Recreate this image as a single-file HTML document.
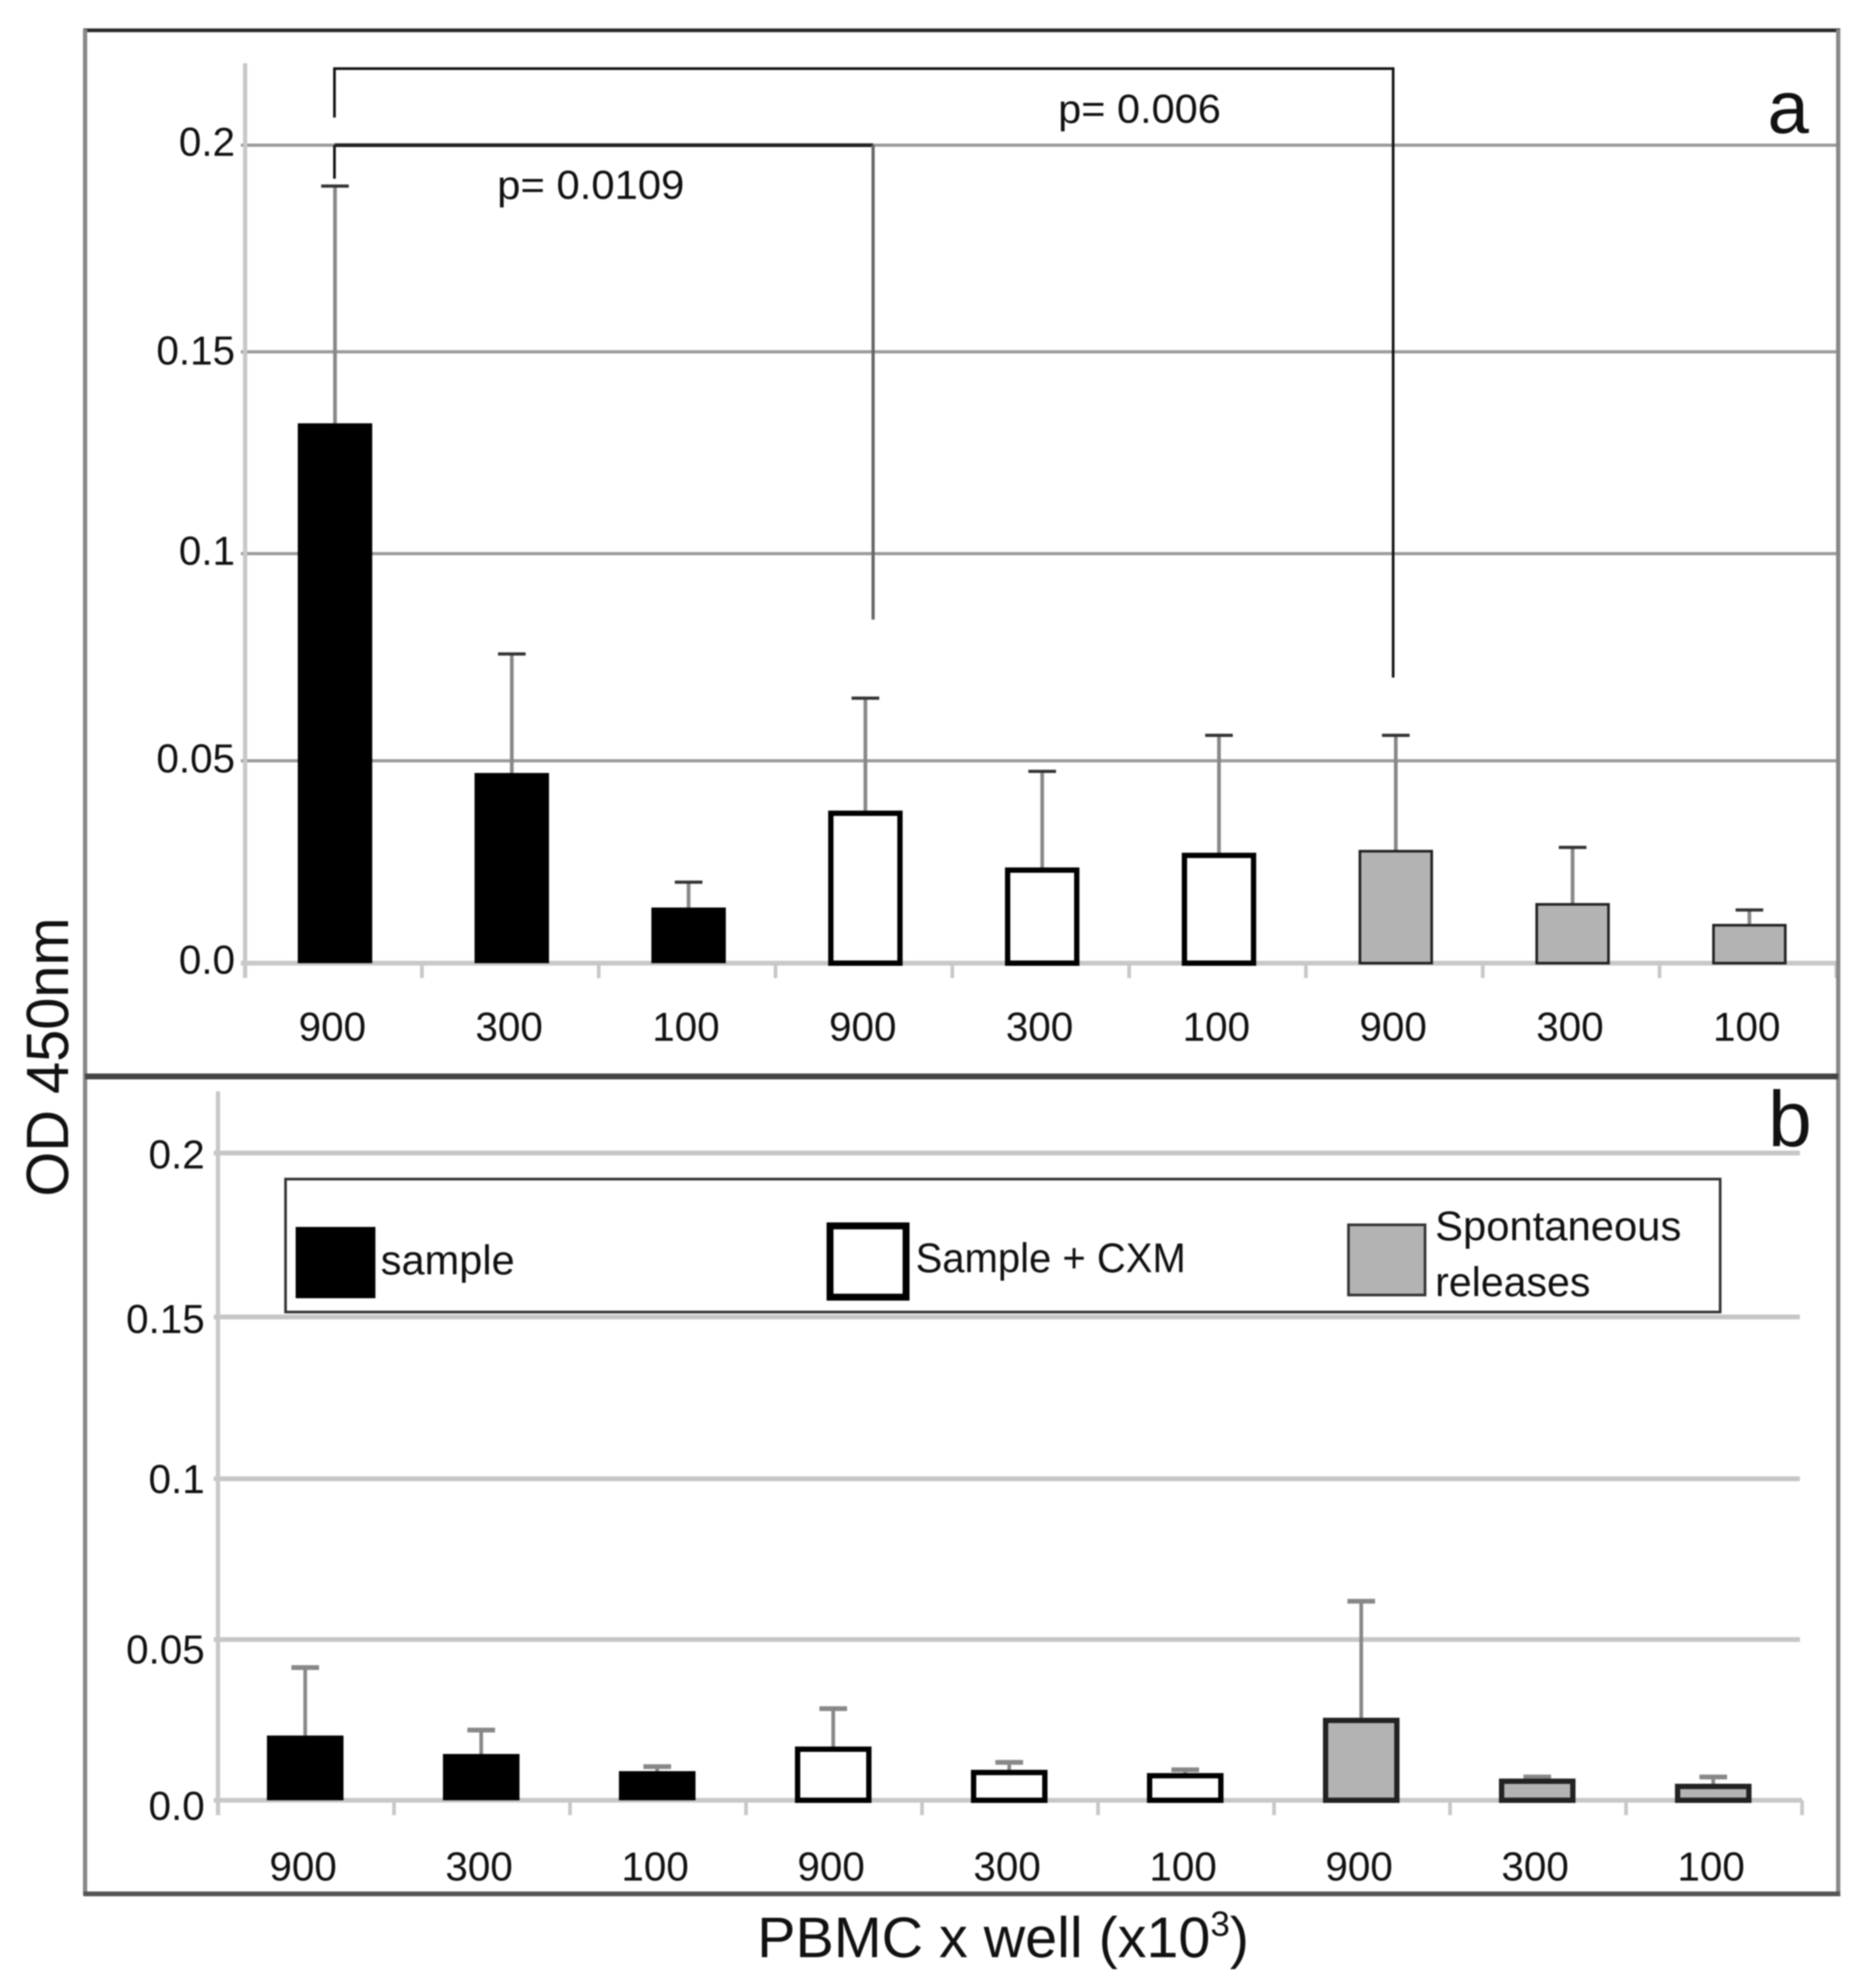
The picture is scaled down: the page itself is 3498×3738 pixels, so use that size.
<!DOCTYPE html>
<html lang="en">
<head>
<meta charset="utf-8">
<title>OD 450nm by PBMC per well</title>
<style>
html,body{margin:0;padding:0;background:#fff;}
svg{display:block;filter:blur(1.3px);}
text{font-family:"Liberation Sans",sans-serif;fill:#111;}
</style>
</head>
<body>
<svg id="chart" width="3498" height="3738" viewBox="0 0 3498 3738" xmlns="http://www.w3.org/2000/svg">
  <rect x="0" y="0" width="3498" height="3738" fill="#fff"/>
  <g id="panel-a"></g>
  <g id="panel-b"></g>

  <g>
    <line x1="157" y1="57" x2="3461" y2="57" stroke="#2a2a2a" stroke-width="7"/>
    <line x1="160" y1="55" x2="160" y2="3564" stroke="#888" stroke-width="8"/>
    <line x1="3457" y1="55" x2="3457" y2="3564" stroke="#888" stroke-width="8"/>
    <line x1="160" y1="2024" x2="3457" y2="2024" stroke="#444" stroke-width="11"/>
    <line x1="157" y1="3561" x2="3461" y2="3561" stroke="#555" stroke-width="9"/>
  </g>

  <g fill="none">
    <polyline points="629,221 629,129 2620,129 2620,1274" stroke="#111" stroke-width="5"/>
    <line x1="629" y1="273" x2="629" y2="336" stroke="#111" stroke-width="5"/>
    <line x1="629" y1="273" x2="1642" y2="273" stroke="#222" stroke-width="7"/>
    <line x1="1642" y1="273" x2="1642" y2="1165" stroke="#666" stroke-width="6"/>
  </g>
  <text x="935" y="374" font-size="76" textLength="352" lengthAdjust="spacingAndGlyphs">p= 0.0109</text>
  <text x="1990" y="231" font-size="76" textLength="306" lengthAdjust="spacingAndGlyphs">p= 0.006</text>
  <text x="3324" y="250" font-size="140">a</text>
  <text x="3325" y="2155" font-size="148">b</text>

  <g>
    <rect x="537" y="2217" width="2698" height="250" fill="#fff" stroke="#333" stroke-width="5"/>
    <rect x="556" y="2307" width="150" height="134" fill="#000"/>
    <text x="716" y="2396" font-size="78" textLength="252" lengthAdjust="spacingAndGlyphs">sample</text>
    <rect x="1561" y="2305" width="143" height="134" fill="#fff" stroke="#000" stroke-width="13"/>
    <text x="1722" y="2392" font-size="78" textLength="508" lengthAdjust="spacingAndGlyphs">Sample + CXM</text>
    <rect x="2536" y="2303" width="144" height="132" fill="#b3b3b3" stroke="#333" stroke-width="5"/>
    <text x="2699" y="2332" font-size="78" textLength="463" lengthAdjust="spacingAndGlyphs">Spontaneous</text>
    <text x="2699" y="2437" font-size="78" textLength="292" lengthAdjust="spacingAndGlyphs">releases</text>
  </g>

  <text transform="translate(128,2250) rotate(-90)" font-size="112" textLength="525" lengthAdjust="spacingAndGlyphs">OD 450nm</text>
  <text x="1424" y="3680" font-size="108">PBMC x well (x10<tspan font-size="66" dy="-40">3</tspan><tspan dy="40">)</tspan></text>
</svg>
<script>
const categoryLabels = ['900', '300', '100', '900', '300', '100', '900', '300', '100'];
const tickValues = [0.2, 0.15, 0.1, 0.05, 0];
const tickLabels = ['0.2', '0.15', '0.1', '0.05', '0.0'];
const meansA = [0.132, 0.0465, 0.0136, 0.0373, 0.0234, 0.027, 0.0277, 0.0147, 0.0096];
const errorTopsA = [0.19, 0.0756, 0.0198, 0.0648, 0.0469, 0.0557, 0.0557, 0.0283, 0.013];
const meansB = [0.02, 0.0143, 0.009, 0.0166, 0.0094, 0.0084, 0.0255, 0.0067, 0.0051];
const errorTopsB = [0.041, 0.0217, 0.0104, 0.0283, 0.0117, 0.0094, 0.0615, 0.0072, 0.0072];
const groupStyles = ['sample', 'sample', 'sample', 'cxm', 'cxm', 'cxm', 'spontaneous', 'spontaneous', 'spontaneous'];

const SVGNS = 'http://www.w3.org/2000/svg';
function make(parent, tag, attrs, content) {
  const el = document.createElementNS(SVGNS, tag);
  for (const k in attrs) el.setAttribute(k, attrs[k]);
  if (content !== undefined) el.textContent = content;
  parent.appendChild(el);
  return el;
}

const panelConfigA = {
  node: document.getElementById('panel-a'), axisX: 461, axisTop: 119, zeroY: 1811, unit: 7690,
  step: 332.5, barOffset: 169, barW: 140, gridEnd: 3457, gridColor: '#9a9a9a', gridW: 6, axisColor: '#c8c8c8',
  tickRight: 442, labelBase: 20, gridNudge: [0, 4, -1, 4, 0], labelNudge: [0, 8, 0, 6, 0],
  catBase: 1957, catOffset: 164, capColor: '#333', capW: 6,
  strokeW: { sample: 0, cxm: 10, spontaneous: 5 }
};
const panelConfigB = {
  node: document.getElementById('panel-b'), axisX: 410, axisTop: 2052, zeroY: 3385, unit: 6085,
  step: 331, barOffset: 164, barW: 144, gridEnd: 3385, gridColor: '#c6c6c6', gridW: 9, axisColor: '#c8c8c8',
  tickRight: 385, labelBase: 29, gridNudge: [0, 4, 4, 2, 0], labelNudge: [0, 5, 2, 18, 8],
  catBase: 3536, catOffset: 160, capColor: '#888', capW: 9,
  strokeW: { sample: 0, cxm: 10, spontaneous: 10 }
};

function drawPanel(cfg, means, errorTops) {
  const yAxis = v => cfg.zeroY - v * cfg.unit;
  const xAxis = i => cfg.axisX + cfg.barOffset + i * cfg.step;
  const g = cfg.node;

  tickValues.forEach((v, i) => {
    const gy = yAxis(v) + cfg.gridNudge[i];
    if (v !== 0) {
      const grid = make(g, 'line', { x1: cfg.axisX - 8, x2: cfg.gridEnd, y1: gy, y2: gy, stroke: cfg.gridColor, 'stroke-width': cfg.gridW });
      
      
    }
    const label = make(g, 'text', { x: cfg.tickRight, y: yAxis(v) + cfg.labelBase + cfg.labelNudge[i], 'font-size': 76, 'text-anchor': 'end' }, tickLabels[i]);
    
    
  });

  const yLine = make(g, 'line', { x1: cfg.axisX, x2: cfg.axisX, y1: cfg.axisTop, y2: cfg.zeroY + 28, stroke: cfg.axisColor, 'stroke-width': 8 });
  
  
  const xLine = make(g, 'line', { x1: cfg.axisX - 8, x2: cfg.axisX + 9 * cfg.step, y1: cfg.zeroY, y2: cfg.zeroY, stroke: cfg.axisColor, 'stroke-width': 9 });
  
  

  for (let i = 1; i <= 9; i++) {
    const tx = cfg.axisX + i * cfg.step;
    const tick = make(g, 'line', { x1: tx, x2: tx, y1: cfg.zeroY, y2: cfg.zeroY + 28, stroke: cfg.axisColor, 'stroke-width': 7 });
    
    
  }

  categoryLabels.forEach((c, i) => {
    const cx = xAxis(i);
    const label = make(g, 'text', { x: cfg.axisX + cfg.catOffset + i * cfg.step, y: cfg.catBase, 'font-size': 76, 'text-anchor': 'middle' }, c);
    
    

    const stem = make(g, 'line', { x1: cx, x2: cx, y1: yAxis(errorTops[i]), y2: yAxis(means[i]), stroke: '#888', 'stroke-width': 7 });
    
    
    const cap = make(g, 'line', { x1: cx - 26, x2: cx + 26, y1: yAxis(errorTops[i]), y2: yAxis(errorTops[i]), stroke: cfg.capColor, 'stroke-width': cfg.capW });
    
    

    const style = groupStyles[i];
    const sw = cfg.strokeW[style];
    const fill = style === 'sample' ? '#000' : (style === 'cxm' ? '#fff' : '#b3b3b3');
    const stroke = style === 'spontaneous' ? '#222' : '#000';
    const top = yAxis(means[i]);
    const bar = make(g, 'rect', {
      x: cx - cfg.barW / 2 + sw / 2, y: top + sw / 2,
      width: cfg.barW - sw, height: Math.max(cfg.zeroY - top - sw / 2, 1),
      fill: fill, stroke: sw ? stroke : 'none', 'stroke-width': sw
    });
    
    
  });
}

drawPanel(panelConfigA, meansA, errorTopsA);
drawPanel(panelConfigB, meansB, errorTopsB);
</script>
</body>
</html>
